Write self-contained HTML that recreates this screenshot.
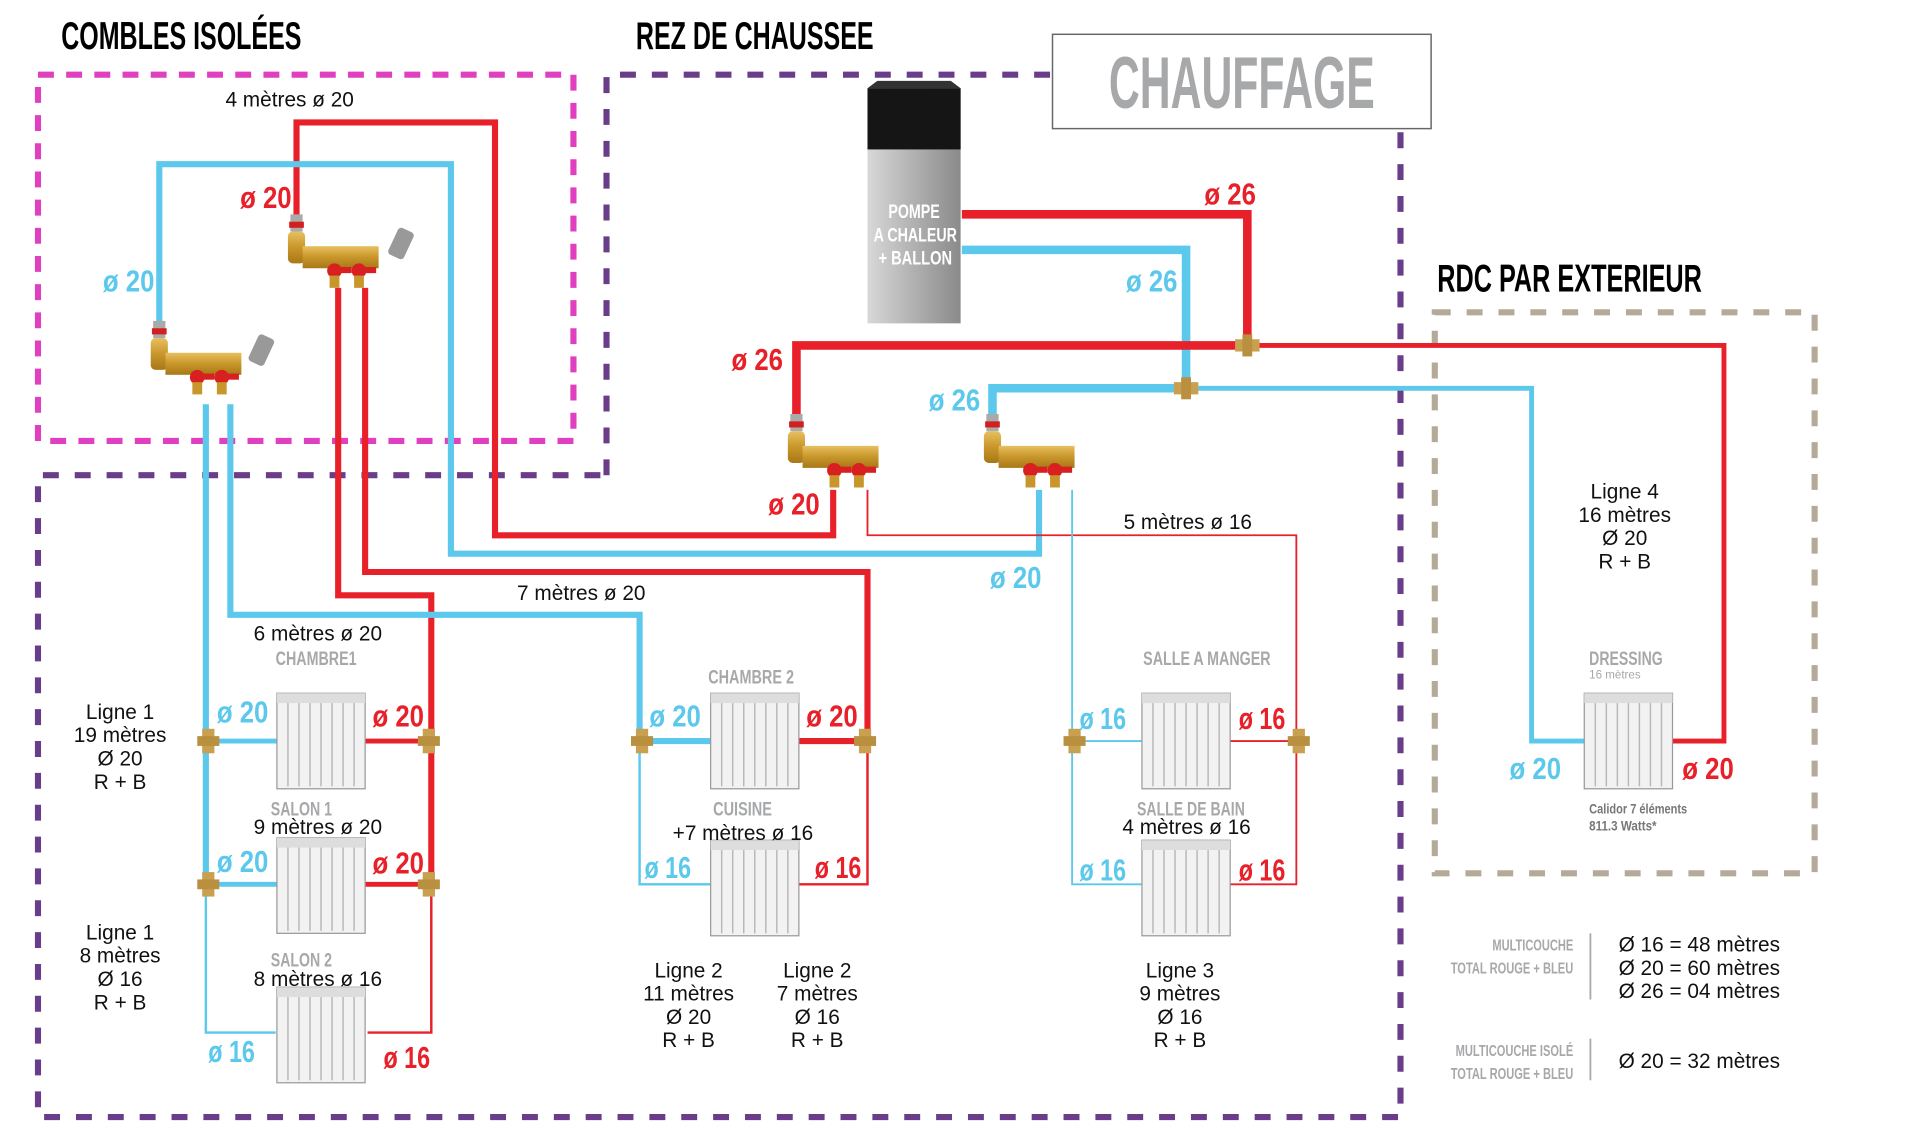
<!DOCTYPE html>
<html><head><meta charset="utf-8"><style>
html,body{margin:0;padding:0;background:#fff;}
svg{display:block;}
.h{font-family:"Liberation Sans",sans-serif;font-weight:bold;}
.t{font-family:"Liberation Sans",sans-serif;}
</style></head><body>
<svg width="1920" height="1144" viewBox="0 0 1567 934" preserveAspectRatio="none" xmlns="http://www.w3.org/2000/svg">
<defs>
<linearGradient id="pump" x1="0" x2="1" y1="0" y2="0">
<stop offset="0" stop-color="#d8d8d8"/><stop offset="0.4" stop-color="#b8b8b8"/><stop offset="1" stop-color="#8a8a8a"/></linearGradient>
<linearGradient id="brass" x1="0" x2="0" y1="0" y2="1">
<stop offset="0" stop-color="#e8c060"/><stop offset="0.5" stop-color="#c8962a"/><stop offset="1" stop-color="#a87818"/></linearGradient>
<g id="rad">
<rect x="0" y="0" width="72" height="78" fill="#f2f2f2"/>
<g stroke="#b8b8b8" stroke-width="1.2">
<line x1="9" y1="2" x2="9" y2="76"/><line x1="18" y1="2" x2="18" y2="76"/><line x1="27" y1="2" x2="27" y2="76"/><line x1="36" y1="2" x2="36" y2="76"/><line x1="45" y1="2" x2="45" y2="76"/><line x1="54" y1="2" x2="54" y2="76"/><line x1="63" y1="2" x2="63" y2="76"/>
</g>
<rect x="0" y="0" width="72" height="78" fill="none" stroke="#999" stroke-width="1"/>
<rect x="0" y="0" width="72" height="8" fill="#ddd"/>
</g>
<g id="man">
<rect x="0" y="0" width="10" height="14" fill="#aaa"/>
<rect x="-1" y="6" width="12" height="5" fill="#d02020"/>
<rect x="-2" y="14" width="14" height="26" rx="4" fill="url(#brass)"/>
<rect x="10" y="26" width="62" height="18" fill="url(#brass)"/>
<circle cx="36" cy="46" r="6" fill="#d82020"/><rect x="36" y="43" width="14" height="5" fill="#d82020"/>
<circle cx="56" cy="46" r="6" fill="#d82020"/><rect x="56" y="43" width="14" height="5" fill="#d82020"/>
<rect x="32" y="50" width="8" height="10" fill="#c8962a"/><rect x="52" y="50" width="8" height="10" fill="#c8962a"/>
</g>
<g id="vent"><rect x="0" y="0" width="14" height="24" rx="3" fill="#999" transform="rotate(25)"/></g>
<g id="tee"><rect x="-5" y="-10" width="10" height="20" fill="#c8a050"/><rect x="-9" y="-4" width="18" height="8" fill="#b89040"/></g>
</defs>

<text class="h" x="50" y="40" font-size="32" textLength="196" lengthAdjust="spacingAndGlyphs">COMBLES ISOLÉES</text>
<text class="h" x="519" y="40" font-size="32" textLength="194" lengthAdjust="spacingAndGlyphs">REZ DE CHAUSSEE</text>
<text class="h" x="1173" y="238" font-size="32" textLength="216" lengthAdjust="spacingAndGlyphs">RDC PAR EXTERIEUR</text>
<rect x="859" y="28" width="309" height="77" fill="#fff" stroke="#666" stroke-width="1.2"/>
<text class="h" x="905" y="88" font-size="60" fill="#a7a8aa" textLength="217" lengthAdjust="spacingAndGlyphs">CHAUFFAGE</text>

<rect x="31" y="61" width="437" height="299" fill="none" stroke="#e040c0" stroke-width="5" stroke-dasharray="13 10"/>
<g fill="none" stroke="#6a3d8a" stroke-width="5" stroke-dasharray="13 13">
<polyline points="495,388 495,61 858,61"/>
<polyline points="1143,108 1143,912 31,912 31,388 495,388"/>
</g>
<rect x="1171" y="255" width="310" height="458" fill="none" stroke="#b5aa9a" stroke-width="5" stroke-dasharray="13 13"/>

<g fill="none" stroke-linejoin="miter">
<polyline stroke="#e8202a" stroke-width="5" points="242,180 242,100 404,100 404,437 680,437 680,400"/>
<polyline stroke="#5bc8ec" stroke-width="5" points="130,265 130,134 368,134 368,452 848,452 848,400"/>
<polyline stroke="#e8202a" stroke-width="5" points="276,235 276,486 352,486 352,722"/>
<polyline stroke="#e8202a" stroke-width="2" points="352,722 352,843 300,843"/>
<polyline stroke="#e8202a" stroke-width="5" points="298,235 298,467 708,467 708,605 652,605"/>
<polyline stroke="#5bc8ec" stroke-width="5" points="168,330 168,722"/>
<polyline stroke="#5bc8ec" stroke-width="2" points="168,722 168,843 225,843"/>
<polyline stroke="#5bc8ec" stroke-width="5" points="188,330 188,502 522,502 522,605 580,605"/>
<polyline stroke="#5bc8ec" stroke-width="2" points="522,605 522,722 580,722"/>
<polyline stroke="#e8202a" stroke-width="2" points="708,605 708,722 652,722"/>
<polyline stroke="#5bc8ec" stroke-width="4" points="168,605 226,605"/>
<polyline stroke="#e8202a" stroke-width="4" points="298,605 352,605"/>
<polyline stroke="#5bc8ec" stroke-width="4" points="168,722 226,722"/>
<polyline stroke="#e8202a" stroke-width="4" points="298,722 352,722"/>
<polyline stroke="#e8202a" stroke-width="7" points="785,175 1018,175 1018,282"/>
<polyline stroke="#5bc8ec" stroke-width="7" points="785,204 968,204 968,317"/>
<polyline stroke="#e8202a" stroke-width="7" points="1018,282 650,282 650,340"/>
<polyline stroke="#5bc8ec" stroke-width="7" points="968,317 810,317 810,340"/>
<polyline stroke="#e8202a" stroke-width="4" points="1018,282 1407,282 1407,605 1365,605"/>
<polyline stroke="#5bc8ec" stroke-width="4" points="968,317 1250,317 1250,605 1293,605"/>
<polyline stroke="#e8202a" stroke-width="1.5" points="708,400 708,437 1058,437 1058,722 1000,722"/>
<polyline stroke="#5bc8ec" stroke-width="1.5" points="875,400 875,722 935,722"/>
<polyline stroke="#e8202a" stroke-width="1.5" points="1000,605 1058,605"/>
<polyline stroke="#5bc8ec" stroke-width="1.5" points="875,605 935,605"/>
</g>

<use href="#tee" x="170" y="605"/><use href="#tee" x="350" y="605"/>
<use href="#tee" x="170" y="722"/><use href="#tee" x="350" y="722"/>
<use href="#tee" x="524" y="605"/><use href="#tee" x="706" y="605"/>
<use href="#tee" x="877" y="605"/><use href="#tee" x="1060" y="605"/>
<g transform="translate(1018,282) rotate(90)"><use href="#tee"/></g>
<g transform="translate(968,317) rotate(90)"><use href="#tee"/></g>

<use href="#man" x="125" y="262"/><use href="#vent" x="212" y="272"/>
<use href="#man" x="237" y="175"/><use href="#vent" x="326" y="185"/>
<use href="#man" x="645" y="338"/>
<use href="#man" x="805" y="338"/>

<rect x="708" y="72" width="76" height="192" fill="url(#pump)"/>
<rect x="708" y="72" width="76" height="50" fill="#151515"/>
<polygon points="708,72 784,72 776,66 716,66" fill="#333"/>
<text class="h" x="746" y="178" font-size="16" fill="#fff" text-anchor="middle" textLength="42" lengthAdjust="spacingAndGlyphs">POMPE</text>
<text class="h" x="747" y="197" font-size="16" fill="#fff" text-anchor="middle" textLength="68" lengthAdjust="spacingAndGlyphs">A CHALEUR</text>
<text class="h" x="747" y="216" font-size="16" fill="#fff" text-anchor="middle" textLength="60" lengthAdjust="spacingAndGlyphs">+ BALLON</text>

<use href="#rad" x="226" y="566"/><use href="#rad" x="226" y="684"/><use href="#rad" x="226" y="806"/>
<use href="#rad" x="580" y="566"/><use href="#rad" x="580" y="686"/>
<use href="#rad" x="932" y="566"/><use href="#rad" x="932" y="686"/>
<use href="#rad" x="1293" y="566"/>

<g class="h" font-size="25">
<text x="196" y="170" fill="#e8202a" textLength="42" lengthAdjust="spacingAndGlyphs">ø 20</text>
<text x="84" y="238" fill="#5bc8ec" textLength="42" lengthAdjust="spacingAndGlyphs">ø 20</text>
<text x="983" y="167" fill="#e8202a" textLength="42" lengthAdjust="spacingAndGlyphs">ø 26</text>
<text x="919" y="238" fill="#5bc8ec" textLength="42" lengthAdjust="spacingAndGlyphs">ø 26</text>
<text x="597" y="302" fill="#e8202a" textLength="42" lengthAdjust="spacingAndGlyphs">ø 26</text>
<text x="758" y="335" fill="#5bc8ec" textLength="42" lengthAdjust="spacingAndGlyphs">ø 26</text>
<text x="627" y="420" fill="#e8202a" textLength="42" lengthAdjust="spacingAndGlyphs">ø 20</text>
<text x="808" y="480" fill="#5bc8ec" textLength="42" lengthAdjust="spacingAndGlyphs">ø 20</text>
<text x="177" y="590" fill="#5bc8ec" textLength="42" lengthAdjust="spacingAndGlyphs">ø 20</text>
<text x="304" y="593" fill="#e8202a" textLength="42" lengthAdjust="spacingAndGlyphs">ø 20</text>
<text x="177" y="712" fill="#5bc8ec" textLength="42" lengthAdjust="spacingAndGlyphs">ø 20</text>
<text x="304" y="713" fill="#e8202a" textLength="42" lengthAdjust="spacingAndGlyphs">ø 20</text>
<text x="170" y="867" fill="#5bc8ec" textLength="38" lengthAdjust="spacingAndGlyphs">ø 16</text>
<text x="313" y="872" fill="#e8202a" textLength="38" lengthAdjust="spacingAndGlyphs">ø 16</text>
<text x="530" y="593" fill="#5bc8ec" textLength="42" lengthAdjust="spacingAndGlyphs">ø 20</text>
<text x="658" y="593" fill="#e8202a" textLength="42" lengthAdjust="spacingAndGlyphs">ø 20</text>
<text x="526" y="717" fill="#5bc8ec" textLength="38" lengthAdjust="spacingAndGlyphs">ø 16</text>
<text x="665" y="717" fill="#e8202a" textLength="38" lengthAdjust="spacingAndGlyphs">ø 16</text>
<text x="881" y="595" fill="#5bc8ec" textLength="38" lengthAdjust="spacingAndGlyphs">ø 16</text>
<text x="1011" y="595" fill="#e8202a" textLength="38" lengthAdjust="spacingAndGlyphs">ø 16</text>
<text x="881" y="719" fill="#5bc8ec" textLength="38" lengthAdjust="spacingAndGlyphs">ø 16</text>
<text x="1011" y="719" fill="#e8202a" textLength="38" lengthAdjust="spacingAndGlyphs">ø 16</text>
<text x="1232" y="636" fill="#5bc8ec" textLength="42" lengthAdjust="spacingAndGlyphs">ø 20</text>
<text x="1373" y="636" fill="#e8202a" textLength="42" lengthAdjust="spacingAndGlyphs">ø 20</text>
</g>

<g class="h" font-size="16" fill="#a7a8aa">
<text x="225" y="543" textLength="66" lengthAdjust="spacingAndGlyphs">CHAMBRE1</text>
<text x="578" y="558" textLength="70" lengthAdjust="spacingAndGlyphs">CHAMBRE 2</text>
<text x="221" y="666" textLength="50" lengthAdjust="spacingAndGlyphs">SALON 1</text>
<text x="221" y="789" textLength="50" lengthAdjust="spacingAndGlyphs">SALON 2</text>
<text x="582" y="666" textLength="48" lengthAdjust="spacingAndGlyphs">CUISINE</text>
<text x="933" y="543" textLength="104" lengthAdjust="spacingAndGlyphs">SALLE A MANGER</text>
<text x="928" y="666" textLength="88" lengthAdjust="spacingAndGlyphs">SALLE DE BAIN</text>
<text x="1297" y="543" textLength="60" lengthAdjust="spacingAndGlyphs">DRESSING</text>
<text x="1297" y="554" font-size="10" font-weight="normal" textLength="42" lengthAdjust="spacingAndGlyphs">16 mètres</text>
<text x="1297" y="664" font-size="11" fill="#777" textLength="80" lengthAdjust="spacingAndGlyphs">Calidor 7 éléments</text>
<text x="1297" y="678" font-size="11" fill="#777" textLength="55" lengthAdjust="spacingAndGlyphs">811.3 Watts*</text>
<text x="1284" y="776" font-size="13" text-anchor="end" textLength="66" lengthAdjust="spacingAndGlyphs">MULTICOUCHE</text>
<text x="1284" y="795" font-size="13" text-anchor="end" textLength="100" lengthAdjust="spacingAndGlyphs">TOTAL ROUGE + BLEU</text>
<text x="1284" y="862" font-size="13" text-anchor="end" textLength="96" lengthAdjust="spacingAndGlyphs">MULTICOUCHE ISOLÉ</text>
<text x="1284" y="881" font-size="13" text-anchor="end" textLength="100" lengthAdjust="spacingAndGlyphs">TOTAL ROUGE + BLEU</text>
</g>
<line x1="1298" y1="762" x2="1298" y2="816" stroke="#aaa" stroke-width="1.5"/>
<line x1="1298" y1="848" x2="1298" y2="882" stroke="#aaa" stroke-width="1.5"/>

<g class="t" font-size="17" fill="#111">
<text x="184" y="87">4 mètres ø 20</text>
<text x="917" y="432">5 mètres ø 16</text>
<text x="422" y="490">7 mètres ø 20</text>
<text x="207" y="523">6 mètres ø 20</text>
<text x="207" y="681">9 mètres ø 20</text>
<text x="207" y="805">8 mètres ø 16</text>
<text x="549" y="686">+7 mètres ø 16</text>
<text x="916" y="681">4 mètres ø 16</text>
<g text-anchor="middle">
<text x="98" y="587">Ligne 1</text><text x="98" y="606">19 mètres</text><text x="98" y="625">Ø 20</text><text x="98" y="644">R + B</text>
<text x="98" y="767">Ligne 1</text><text x="98" y="786">8 mètres</text><text x="98" y="805">Ø 16</text><text x="98" y="824">R + B</text>
<text x="562" y="798">Ligne 2</text><text x="562" y="817">11 mètres</text><text x="562" y="836">Ø 20</text><text x="562" y="855">R + B</text>
<text x="667" y="798">Ligne 2</text><text x="667" y="817">7 mètres</text><text x="667" y="836">Ø 16</text><text x="667" y="855">R + B</text>
<text x="963" y="798">Ligne 3</text><text x="963" y="817">9 mètres</text><text x="963" y="836">Ø 16</text><text x="963" y="855">R + B</text>
<text x="1326" y="407">Ligne 4</text><text x="1326" y="426">16 mètres</text><text x="1326" y="445">Ø 20</text><text x="1326" y="464">R + B</text>
</g>
<text x="1321" y="777">Ø 16 = 48 mètres</text>
<text x="1321" y="796">Ø 20 = 60 mètres</text>
<text x="1321" y="815">Ø 26 = 04 mètres</text>
<text x="1321" y="872">Ø 20 = 32 mètres</text>
</g>
</svg>
</body></html>
